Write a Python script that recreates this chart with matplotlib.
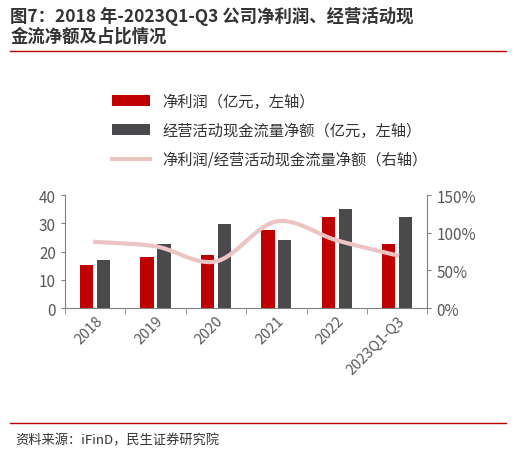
import numpy as np
import matplotlib
matplotlib.use("Agg")
import matplotlib.pyplot as plt
from matplotlib.ticker import FuncFormatter

plt.rcParams['font.family'] = ['Noto Sans CJK SC', 'DejaVu Sans']

years = ["2018", "2019", "2020", "2021", "2022", "2023Q1-Q3"]
net_profit = [15.3, 18.2, 18.7, 27.6, 32.3, 22.8]
op_cash = [17.2, 22.8, 29.8, 24.2, 35.0, 32.3]
ratio = [88, 82, 62, 115, 90, 70]


def smooth(xs, ys, n=30):
    """Catmull-Rom curve through the points."""
    p = np.array(list(zip(xs, ys)), dtype=float)
    p = np.vstack([2 * p[0] - p[1], p, 2 * p[-1] - p[-2]])
    out = []
    t = np.linspace(0, 1, n)[:, None]
    for i in range(1, len(p) - 2):
        p0, p1, p2, p3 = p[i - 1], p[i], p[i + 1], p[i + 2]
        seg = 0.5 * (2 * p1 + (-p0 + p2) * t + (2 * p0 - 5 * p1 + 4 * p2 - p3) * t ** 2
                     + (-p0 + 3 * p1 - 3 * p2 + p3) * t ** 3)
        out.append(seg)
    out = np.vstack(out)
    return out[:, 0], out[:, 1]


fig = plt.figure(figsize=(5.16, 4.56), dpi=100)
fig.text(0.02, 0.985, "图7：2018 年-2023Q1-Q3 公司净利润、经营活动现\n金流净额及占比情况",
         ha="left", va="top", fontsize=12.5, fontweight="bold", color="#333333", linespacing=1.1)
fig.add_artist(plt.Line2D([0.02, 0.98], [0.885, 0.885], color="#c00000", lw=1))
fig.add_artist(plt.Line2D([0.02, 0.98], [0.07, 0.07], color="#c00000", lw=1))
fig.text(0.03, 0.025, "资料来源：iFinD，民生证券研究院", fontsize=9.5, color="#333333")

ax = fig.add_axes([0.126, 0.322, 0.702, 0.248])
x = np.arange(len(years))
w = 0.22
b1 = ax.bar(x - 0.14, net_profit, w, color="#c00000", label="净利润（亿元，左轴）")
b2 = ax.bar(x + 0.14, op_cash, w, color="#4a4a4d", label="经营活动现金流量净额（亿元，左轴）")
ax.set_xlim(-0.5, len(years) - 0.5)
ax.set_ylim(0, 40)
ax.set_yticks([0, 10, 20, 30, 40])
ax.set_xticks(x)
ax.set_xticklabels(years, rotation=45, ha="right", rotation_mode="anchor")
ax.set_xticks(np.arange(-0.5, len(years), 1), minor=True)
ax.tick_params(axis="x", which="major", length=0, labelsize=10.5, colors="#595959")
ax.tick_params(axis="x", which="minor", length=4, color="#808080")
ax.tick_params(axis="y", labelsize=11, colors="#595959", length=3, color="#808080")
for s in ["top", "right"]:
    ax.spines[s].set_visible(False)
ax.spines["left"].set_color("#808080")
ax.spines["bottom"].set_color("#808080")

ax2 = ax.twinx()
sx, sy = smooth(x, ratio)
ln, = ax2.plot(sx, sy, color="#ecc4c4", lw=3, label="净利润/经营活动现金流量净额（右轴）")
ax2.set_ylim(0, 150)
ax2.set_yticks([0, 50, 100, 150])
ax2.yaxis.set_major_formatter(FuncFormatter(lambda v, _: f"{v:.0f}%"))
ax2.tick_params(axis="y", labelsize=11, colors="#595959", length=3, color="#808080")
for s in ["top", "left", "bottom"]:
    ax2.spines[s].set_visible(False)
ax2.spines["right"].set_color("#808080")

fig.legend(handles=[b1, b2, ln], loc="upper left", bbox_to_anchor=(0.19, 0.825),
           frameon=False, fontsize=11, labelcolor="#333333", handlelength=2.5,
           labelspacing=0.8)

fig.savefig("out.png", dpi=100)
